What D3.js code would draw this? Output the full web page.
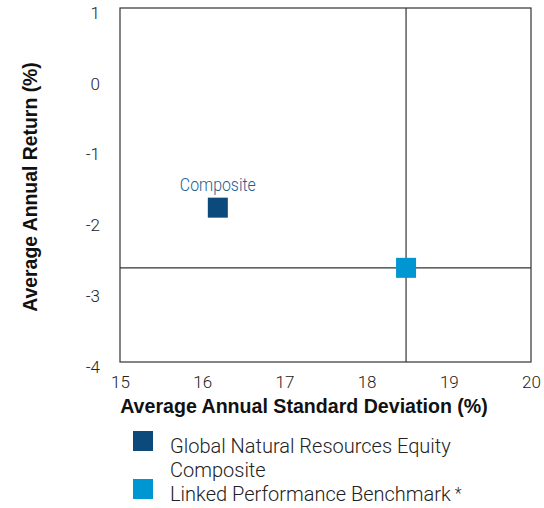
<!DOCTYPE html>
<html>
<head>
<meta charset="utf-8">
<script src="https://cdn.jsdelivr.net/npm/d3@7"></script>
<style>
  body { margin: 0; background: #fff; }
  svg { display: block; }
</style>
</head>
<body>
<div id="chart"></div>
<script>
// datos
const names = ["Global Natural Resources Equity Composite", "Linked Performance Benchmark"];
const legendLines = [["Global Natural Resources Equity", "Composite"], ["Linked Performance Benchmark"]];
const legendMarks = ["", "*"];
const stdDev = [16.19, 18.48];
const avgReturn = [-1.82, -2.67];
const colors = ["#0b4a7a", "#0096d1"];
const xTicks = [15, 16, 17, 18, 19, 20];
const yTicks = [1, 0, -1, -2, -3, -4];

const width = 544, height = 508;
const margin = { top: 8, right: 13, bottom: 146, left: 120 };

const svg = d3.select("#chart").append("svg")
    .attr("width", width)
    .attr("height", height)
    .style("font-family", "Roboto, 'Liberation Sans', sans-serif");

const x = d3.scaleLinear().domain([15, 20]).range([margin.left, width - margin.right]);
const y = d3.scaleLinear().domain([-4, 1]).range([height - margin.bottom, margin.top]);

// marco
svg.append("rect")
    .attr("x", x(15)).attr("y", y(1))
    .attr("width", x(20) - x(15)).attr("height", y(-4) - y(1))
    .attr("fill", "none").attr("stroke", "#333").attr("stroke-width", 1.2);

// ejes (solo etiquetas)
const fmt = (d) => String(d); // guion normal, no signo menos
const xAxis = svg.append("g")
    .attr("transform", `translate(0,${y(-4)})`)
    .call(d3.axisBottom(x).tickValues(xTicks).tickSize(0).tickPadding(14).tickFormat(fmt));
xAxis.select(".domain").remove();
xAxis.selectAll("text")
    .attr("font-size", 17).attr("font-weight", 300)
    .attr("font-family", "Roboto, sans-serif").attr("fill", "#222");

const yAxis = svg.append("g")
    .attr("transform", `translate(${x(15)},0)`)
    .call(d3.axisLeft(y).tickValues(yTicks).tickSize(0).tickPadding(20).tickFormat(fmt));
yAxis.select(".domain").remove();
yAxis.selectAll("text")
    .attr("font-size", 17).attr("font-weight", 300)
    .attr("font-family", "Roboto, sans-serif").attr("fill", "#222")
    .attr("dy", "0.6em");

// lineas del benchmark
const bx = x(stdDev[1]), by = y(avgReturn[1]);
svg.append("line")
    .attr("x1", bx).attr("x2", bx).attr("y1", y(1)).attr("y2", y(-4))
    .attr("stroke", "#333").attr("stroke-width", 1.2);
svg.append("line")
    .attr("x1", x(15)).attr("x2", x(20)).attr("y1", by).attr("y2", by)
    .attr("stroke", "#333").attr("stroke-width", 1.2);

// puntos
const sz = 20;
svg.append("g").selectAll("rect")
    .data(stdDev)
    .join("rect")
    .attr("x", (d) => x(d) - sz / 2)
    .attr("y", (d, i) => y(avgReturn[i]) - sz / 2)
    .attr("width", sz).attr("height", sz)
    .attr("fill", (d, i) => colors[i]);

svg.append("text")
    .attr("x", x(stdDev[0])).attr("y", y(avgReturn[0]) - 17)
    .attr("text-anchor", "middle")
    .attr("font-size", 18).attr("font-weight", 300)
    .attr("fill", "#235d8c")
    .attr("textLength", 76)
    .attr("lengthAdjust", "spacingAndGlyphs")
    .text("Composite");

// titulos
svg.append("text")
    .attr("x", 304).attr("y", 413)
    .attr("text-anchor", "middle")
    .attr("font-size", 19.6).attr("font-weight", "bold")
    .attr("font-family", "'Liberation Sans', Arial, sans-serif")
    .attr("fill", "#111")
    .text("Average Annual Standard Deviation (%)");

svg.append("text")
    .attr("transform", "translate(37,187) rotate(-90)")
    .attr("text-anchor", "middle")
    .attr("font-size", 19.4).attr("font-weight", "bold")
    .attr("font-family", "'Liberation Sans', Arial, sans-serif")
    .attr("fill", "#111")
    .text("Average Annual Return (%)");

// leyenda
const legendY = [431, 479];
const leg = svg.append("g").selectAll("g")
    .data(names)
    .join("g")
    .attr("transform", (d, i) => `translate(133,${legendY[i]})`);

leg.append("rect")
    .attr("width", 20).attr("height", 20)
    .attr("fill", (d, i) => colors[i]);

const legText = leg.append("text")
    .attr("font-size", 20).attr("font-weight", 300)
    .attr("fill", "#222");

legText.selectAll("tspan.line")
    .data((d, i) => legendLines[i])
    .join("tspan")
    .attr("class", "line")
    .attr("x", 37)
    .attr("y", (d, j) => 22 + j * 24)
    .text((d) => d);

legText.append("tspan")
    .attr("dx", 4)
    .attr("dy", -2)
    .attr("font-size", 16)
    .text((d, i) => legendMarks[i]);
</script>
</body>
</html>
